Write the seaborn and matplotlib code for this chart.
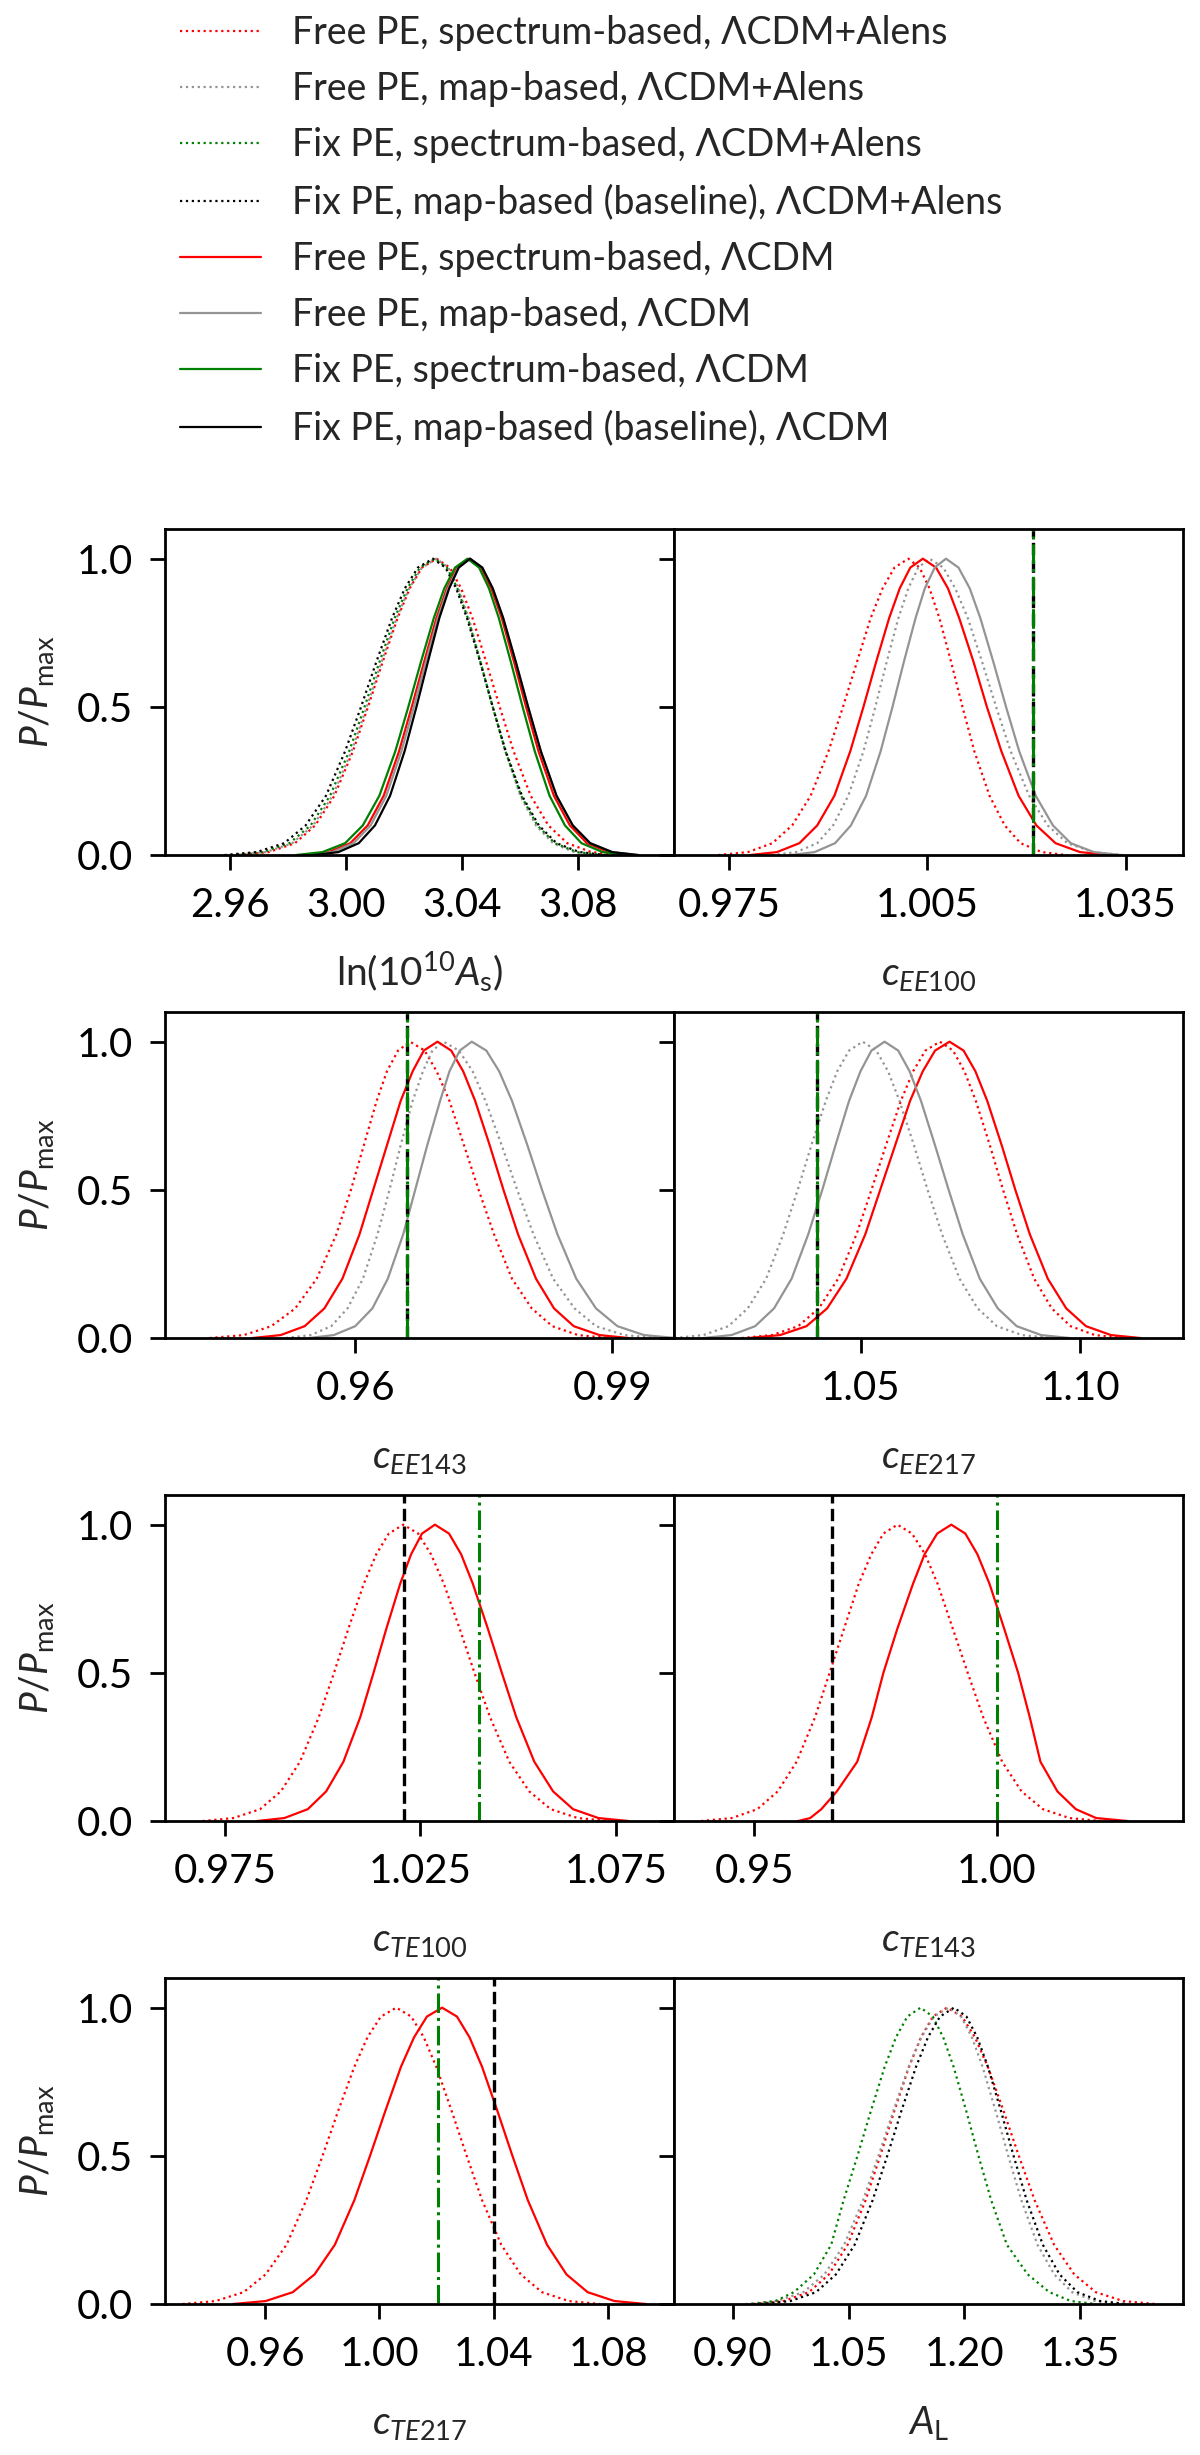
import matplotlib
matplotlib.use("Agg")
import matplotlib.pyplot as plt
import seaborn as sns

sns.set_theme(style="ticks")
plt.rcParams['font.family'] = ['Lato', 'DejaVu Sans']
plt.rcParams['mathtext.fontset'] = 'custom'
plt.rcParams['mathtext.rm'] = 'Lato'
plt.rcParams['mathtext.it'] = 'Lato:italic'
plt.rcParams['mathtext.bf'] = 'Lato:bold'
plt.rcParams['axes.edgecolor'] = 'black'
plt.rcParams['xtick.color'] = 'black'
plt.rcParams['ytick.color'] = 'black'

# P/Pmax levels at which the x positions of every curve were read (left tail -> peak -> right tail)
levels = [0.0, 0.01, 0.04, 0.1, 0.2, 0.35, 0.5, 0.65, 0.8, 0.9, 0.97, 1.0,
          0.97, 0.9, 0.8, 0.65, 0.5, 0.35, 0.2, 0.1, 0.04, 0.01, 0.0]

# ln(10^10 As)
As_free_spec_alens = [2.9627, 2.9733, 2.9823, 2.9893, 2.9959, 3.0023, 3.0075, 3.0125, 3.0177, 3.0219, 3.0261, 3.0311, 3.0357, 3.0396, 3.0435, 3.0483, 3.0529, 3.0577, 3.0636, 3.0697, 3.0762, 3.0845, 3.0943]
As_free_map_alens = [2.9615, 2.9723, 2.9814, 2.9886, 2.9953, 3.0018, 3.0071, 3.0121, 3.0174, 3.0217, 3.0261, 3.0311, 3.0352, 3.0387, 3.0422, 3.0464, 3.0505, 3.0548, 3.0600, 3.0654, 3.0713, 3.0786, 3.0874]
As_fix_spec_alens = [2.9603, 2.9712, 2.9804, 2.9877, 2.9944, 3.0010, 3.0063, 3.0114, 3.0167, 3.0211, 3.0254, 3.0305, 3.0347, 3.0383, 3.0419, 3.0463, 3.0505, 3.0549, 3.0603, 3.0659, 3.0719, 3.0795, 3.0885]
As_fix_map_alens = [2.9580, 2.9691, 2.9786, 2.9860, 2.9930, 2.9996, 3.0051, 3.0103, 3.0158, 3.0202, 3.0247, 3.0299, 3.0342, 3.0379, 3.0416, 3.0462, 3.0505, 3.0550, 3.0606, 3.0664, 3.0725, 3.0804, 3.0896]
As_free_spec = [2.9850, 2.9939, 3.0014, 3.0074, 3.0129, 3.0182, 3.0226, 3.0268, 3.0311, 3.0347, 3.0382, 3.0424, 3.0465, 3.0500, 3.0536, 3.0579, 3.0620, 3.0663, 3.0716, 3.0771, 3.0830, 3.0904, 3.0992]
As_free_map = [2.9864, 2.9952, 3.0025, 3.0084, 3.0138, 3.0190, 3.0233, 3.0274, 3.0316, 3.0351, 3.0386, 3.0427, 3.0469, 3.0505, 3.0541, 3.0585, 3.0627, 3.0671, 3.0725, 3.0781, 3.0841, 3.0917, 3.1007]
As_fix_spec = [2.9826, 2.9918, 2.9996, 3.0057, 3.0114, 3.0169, 3.0214, 3.0257, 3.0302, 3.0338, 3.0375, 3.0418, 3.0458, 3.0492, 3.0526, 3.0568, 3.0608, 3.0650, 3.0701, 3.0754, 3.0811, 3.0884, 3.0969]
As_fix_map = [2.9889, 2.9973, 3.0043, 3.0099, 3.0151, 3.0201, 3.0242, 3.0281, 3.0321, 3.0355, 3.0388, 3.0427, 3.0469, 3.0505, 3.0541, 3.0585, 3.0627, 3.0671, 3.0725, 3.0781, 3.0841, 3.0917, 3.1007]

# c_EE100
cEE100_free_spec_alens = [0.9733, 0.9778, 0.9815, 0.9845, 0.9873, 0.9900, 0.9922, 0.9943, 0.9964, 0.9982, 1.0000, 1.0021, 1.0038, 1.0053, 1.0068, 1.0086, 1.0103, 1.0121, 1.0144, 1.0167, 1.0191, 1.0223, 1.0260]
cEE100_free_map_alens = [0.9814, 0.9851, 0.9883, 0.9907, 0.9930, 0.9953, 0.9971, 0.9988, 1.0006, 1.0021, 1.0036, 1.0053, 1.0074, 1.0092, 1.0111, 1.0133, 1.0154, 1.0176, 1.0204, 1.0232, 1.0262, 1.0301, 1.0346]
cEE100_free_spec = [0.9781, 0.9822, 0.9856, 0.9883, 0.9909, 0.9933, 0.9953, 0.9972, 0.9992, 1.0008, 1.0024, 1.0043, 1.0063, 1.0081, 1.0098, 1.0120, 1.0140, 1.0162, 1.0188, 1.0215, 1.0244, 1.0281, 1.0325]
cEE100_free_map = [0.9843, 0.9879, 0.9910, 0.9934, 0.9957, 0.9979, 0.9997, 1.0014, 1.0032, 1.0046, 1.0061, 1.0078, 1.0097, 1.0114, 1.0130, 1.0150, 1.0169, 1.0189, 1.0214, 1.0240, 1.0267, 1.0302, 1.0343]

# c_EE143
cEE143_free_spec_alens = [0.9430, 0.9470, 0.9502, 0.9530, 0.9555, 0.9578, 0.9595, 0.9610, 0.9625, 0.9637, 0.9650, 0.9664, 0.9681, 0.9695, 0.9710, 0.9727, 0.9744, 0.9762, 0.9783, 0.9806, 0.9830, 0.9860, 0.9896]
cEE143_free_map_alens = [0.9519, 0.9548, 0.9572, 0.9591, 0.9609, 0.9626, 0.9640, 0.9653, 0.9667, 0.9679, 0.9690, 0.9703, 0.9721, 0.9737, 0.9752, 0.9771, 0.9789, 0.9808, 0.9831, 0.9856, 0.9881, 0.9914, 0.9953]
cEE143_free_spec = [0.9480, 0.9513, 0.9541, 0.9564, 0.9585, 0.9605, 0.9621, 0.9637, 0.9653, 0.9667, 0.9680, 0.9696, 0.9712, 0.9726, 0.9740, 0.9757, 0.9773, 0.9790, 0.9811, 0.9832, 0.9855, 0.9885, 0.9919]
cEE143_free_map = [0.9546, 0.9575, 0.9600, 0.9620, 0.9638, 0.9656, 0.9670, 0.9684, 0.9699, 0.9710, 0.9722, 0.9736, 0.9753, 0.9768, 0.9783, 0.9801, 0.9818, 0.9836, 0.9858, 0.9881, 0.9906, 0.9937, 0.9974]

# c_EE217
cEE217_free_spec_alens = [1.0228, 1.0298, 1.0357, 1.0404, 1.0448, 1.0490, 1.0524, 1.0557, 1.0591, 1.0619, 1.0647, 1.0680, 1.0710, 1.0736, 1.0762, 1.0794, 1.0824, 1.0856, 1.0895, 1.0935, 1.0978, 1.1033, 1.1098]
cEE217_free_map_alens = [1.0075, 1.0141, 1.0198, 1.0242, 1.0284, 1.0323, 1.0356, 1.0387, 1.0420, 1.0446, 1.0473, 1.0504, 1.0535, 1.0562, 1.0588, 1.0621, 1.0652, 1.0685, 1.0725, 1.0766, 1.0810, 1.0867, 1.0933]
cEE217_free_spec = [1.0245, 1.0316, 1.0376, 1.0423, 1.0467, 1.0510, 1.0544, 1.0578, 1.0612, 1.0641, 1.0669, 1.0702, 1.0734, 1.0761, 1.0788, 1.0821, 1.0852, 1.0885, 1.0926, 1.0968, 1.1013, 1.1070, 1.1137]
cEE217_free_map = [1.0141, 1.0205, 1.0259, 1.0302, 1.0342, 1.0380, 1.0412, 1.0442, 1.0473, 1.0499, 1.0524, 1.0554, 1.0585, 1.0611, 1.0637, 1.0669, 1.0700, 1.0732, 1.0771, 1.0812, 1.0855, 1.0911, 1.0976]

# c_TE100
cTE100_free_spec_alens = [0.9693, 0.9772, 0.9840, 0.9893, 0.9942, 0.9990, 1.0029, 1.0066, 1.0105, 1.0137, 1.0169, 1.0206, 1.0244, 1.0277, 1.0310, 1.0350, 1.0388, 1.0428, 1.0477, 1.0528, 1.0583, 1.0652, 1.0734]
cTE100_free_spec = [0.9832, 0.9902, 0.9962, 1.0009, 1.0053, 1.0096, 1.0130, 1.0163, 1.0198, 1.0226, 1.0254, 1.0287, 1.0323, 1.0354, 1.0384, 1.0422, 1.0458, 1.0495, 1.0541, 1.0589, 1.0640, 1.0705, 1.0782]

# c_TE143
cTE143_free_spec_alens = [0.9390, 0.9453, 0.9506, 0.9548, 0.9587, 0.9625, 0.9655, 0.9685, 0.9715, 0.9741, 0.9766, 0.9795, 0.9825, 0.9852, 0.9878, 0.9909, 0.9940, 0.9972, 1.0011, 1.0051, 1.0095, 1.0150, 1.0215]
cTE143_free_spec = [0.9590, 0.9615, 0.9638, 0.9670, 0.9712, 0.9742, 0.9766, 0.9795, 0.9827, 0.9851, 0.9877, 0.9906, 0.9935, 0.9960, 0.9985, 1.0015, 1.0044, 1.0068, 1.0090, 1.0125, 1.0163, 1.0205, 1.0270]

# c_TE217
cTE217_free_spec_alens = [0.9311, 0.9427, 0.9525, 0.9602, 0.9675, 0.9744, 0.9801, 0.9855, 0.9912, 0.9958, 1.0005, 1.0059, 1.0111, 1.0155, 1.0199, 1.0253, 1.0305, 1.0359, 1.0426, 1.0494, 1.0568, 1.0662, 1.0772]
cTE217_free_spec = [0.9488, 0.9602, 0.9697, 0.9773, 0.9844, 0.9912, 0.9967, 1.0020, 1.0075, 1.0121, 1.0166, 1.0219, 1.0271, 1.0315, 1.0359, 1.0413, 1.0465, 1.0519, 1.0586, 1.0654, 1.0728, 1.0822, 1.0932]

# A_L
AL_free_spec_alens = [0.9267, 0.9656, 0.9985, 1.0244, 1.0486, 1.0719, 1.0909, 1.1090, 1.1281, 1.1436, 1.1592, 1.1773, 1.1969, 1.2137, 1.2304, 1.2509, 1.2705, 1.2910, 1.3162, 1.3423, 1.3702, 1.4056, 1.4476]
AL_free_map_alens = [0.9159, 0.9568, 0.9913, 1.0186, 1.0441, 1.0686, 1.0886, 1.1077, 1.1277, 1.1441, 1.1604, 1.1795, 1.1957, 1.2097, 1.2236, 1.2406, 1.2568, 1.2738, 1.2947, 1.3163, 1.3395, 1.3689, 1.4037]
AL_fix_spec_alens = [0.9250, 0.9550, 0.9790, 1.0050, 1.0273, 1.0434, 1.0614, 1.0786, 1.0966, 1.1113, 1.1260, 1.1432, 1.1590, 1.1725, 1.1860, 1.2025, 1.2182, 1.2347, 1.2550, 1.2820, 1.3100, 1.3380, 1.3700]
AL_fix_map_alens = [0.9358, 0.9747, 1.0076, 1.0335, 1.0577, 1.0810, 1.1000, 1.1181, 1.1372, 1.1527, 1.1683, 1.1864, 1.2026, 1.2166, 1.2305, 1.2475, 1.2637, 1.2807, 1.3016, 1.3232, 1.3464, 1.3758, 1.4106]

# fixed calibration values (vertical lines)
params_fixed = ['cEE100', 'cEE143', 'cEE217', 'cTE100', 'cTE143', 'cTE217']
fixed_map_based = [1.0210, 0.9661, 1.0399, 1.0209, 0.9659, 1.0400]
fixed_spectrum_based = [1.0210, 0.9661, 1.0399, 1.0399, 1.0000, 1.0203]

series_labels = [
    'Free PE, spectrum-based, ΛCDM+Alens',
    'Free PE, map-based, ΛCDM+Alens',
    'Fix PE, spectrum-based, ΛCDM+Alens',
    'Fix PE, map-based (baseline), ΛCDM+Alens',
    'Free PE, spectrum-based, ΛCDM',
    'Free PE, map-based, ΛCDM',
    'Fix PE, spectrum-based, ΛCDM',
    'Fix PE, map-based (baseline), ΛCDM',
]
series_colors = ['red', '#949494', 'green', 'black', 'red', '#949494', 'green', 'black']
series_styles = [':', ':', ':', ':', '-', '-', '-', '-']

panel_names = ['As', 'cEE100', 'cEE143', 'cEE217', 'cTE100', 'cTE143', 'cTE217', 'AL']
panel_labels = [r'$\ln(10^{10}A_{\rm s})$', r'$c_{EE100}$', r'$c_{EE143}$', r'$c_{EE217}$',
                r'$c_{TE100}$', r'$c_{TE143}$', r'$c_{TE217}$', r'$A_{\rm L}$']
panel_xlims = [(2.9375, 3.113), (0.9666, 1.0437), (0.9378, 0.9972), (1.0074, 1.1234),
               (0.9597, 1.0898), (0.9334, 1.0384), (0.9250, 1.1030), (0.8236, 1.4832)]
panel_xticks = [[2.96, 3.00, 3.04, 3.08], [0.975, 1.005, 1.035], [0.96, 0.99], [1.05, 1.10],
                [0.975, 1.025, 1.075], [0.95, 1.00], [0.96, 1.00, 1.04, 1.08], [0.90, 1.05, 1.20, 1.35]]
panel_xticklabels = [['2.96', '3.00', '3.04', '3.08'], ['0.975', '1.005', '1.035'], ['0.96', '0.99'],
                     ['1.05', '1.10'], ['0.975', '1.025', '1.075'], ['0.95', '1.00'],
                     ['0.96', '1.00', '1.04', '1.08'], ['0.90', '1.05', '1.20', '1.35']]
# curves per panel, as (series index, x positions)
panel_curves = [
    [(0, As_free_spec_alens), (1, As_free_map_alens), (2, As_fix_spec_alens), (3, As_fix_map_alens),
     (4, As_free_spec), (5, As_free_map), (6, As_fix_spec), (7, As_fix_map)],
    [(0, cEE100_free_spec_alens), (1, cEE100_free_map_alens), (4, cEE100_free_spec), (5, cEE100_free_map)],
    [(0, cEE143_free_spec_alens), (1, cEE143_free_map_alens), (4, cEE143_free_spec), (5, cEE143_free_map)],
    [(0, cEE217_free_spec_alens), (1, cEE217_free_map_alens), (4, cEE217_free_spec), (5, cEE217_free_map)],
    [(0, cTE100_free_spec_alens), (4, cTE100_free_spec)],
    [(0, cTE143_free_spec_alens), (4, cTE143_free_spec)],
    [(0, cTE217_free_spec_alens), (4, cTE217_free_spec)],
    [(0, AL_free_spec_alens), (1, AL_free_map_alens), (2, AL_fix_spec_alens), (3, AL_fix_map_alens)],
]

fig = plt.figure(figsize=(12, 24.55), dpi=100)
axes = fig.subplots(4, 2, gridspec_kw=dict(left=0.1375, right=0.9858, top=0.7845, bottom=0.0615,
                                           wspace=0.0, hspace=0.4816))
axes = axes.flatten()

for i, ax in enumerate(axes):
    for idx, xs in panel_curves[i]:
        sns.lineplot(x=xs, y=levels, ax=ax, color=series_colors[idx], linestyle=series_styles[idx],
                     linewidth=1.6, estimator=None, sort=False, legend=False)
    name = panel_names[i]
    if name in params_fixed:
        j = params_fixed.index(name)
        ax.axvline(fixed_map_based[j], color='black', linestyle='--', linewidth=2.4)
        ax.axvline(fixed_spectrum_based[j], color='green', linestyle='-.', linewidth=2.2)

    ax.set_xlim(panel_xlims[i])
    ax.set_ylim(0, 1.1)
    ax.set_xticks(panel_xticks[i])
    ax.set_xticklabels(panel_xticklabels[i])
    ax.set_yticks([0.0, 0.5, 1.0])
    if i % 2 == 0:
        ax.set_yticklabels(['0.0', '0.5', '1.0'])
        ax.set_ylabel(r'$P/P_{\rm max}$', fontsize=28)
        ax.yaxis.set_label_coords(-0.252, 0.5)
        ax.yaxis.label.set_va('center')
    else:
        ax.set_yticklabels([])
        ax.set_ylabel('')
    ax.tick_params(direction='out', length=11, width=2, labelsize=29, pad=12)
    for sp in ax.spines.values():
        sp.set_linewidth(2)
        sp.set_color('black')
    ax.set_xlabel(panel_labels[i], fontsize=28)
    ax.xaxis.set_label_coords(0.5, -0.399)
    ax.xaxis.label.set_va('baseline')

handles = axes[0].get_lines()[:8]
fig.legend(handles, series_labels, loc='upper left', bbox_to_anchor=(0.15, 0.994), frameon=False,
           fontsize=27, handlelength=2.15, handletextpad=0.85, labelspacing=0.54,
           borderpad=0, borderaxespad=0)

fig.savefig('out.png', dpi=100)
